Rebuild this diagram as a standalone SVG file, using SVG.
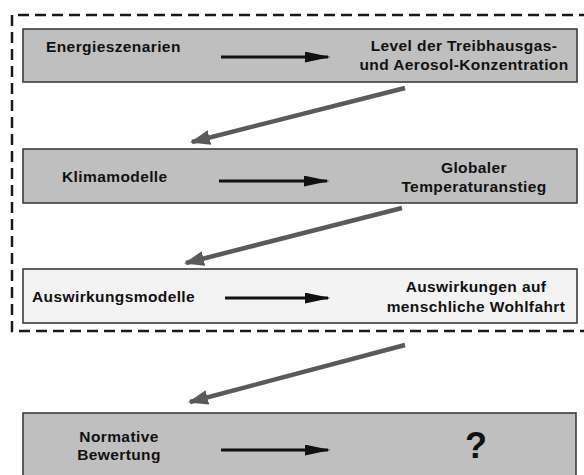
<svg xmlns="http://www.w3.org/2000/svg" width="584" height="475" viewBox="0 0 584 475">
<defs>
<style>
.box{stroke:#3c3c3c;stroke-width:1.6}
.gray{fill:#bfbfbf}
.light{fill:#f3f3f3}
.t{font-family:"Liberation Sans",Arial,sans-serif;font-weight:bold;font-size:15.5px;letter-spacing:0.4px;fill:#111}
.c{text-anchor:middle}
.h{stroke:#111;stroke-width:3;fill:none}
.d{stroke:#5a5a5a;stroke-width:4.5;fill:none}
</style>
<marker id="ah" viewBox="0 0 10 10" refX="9" refY="5" markerUnits="userSpaceOnUse" markerWidth="26" markerHeight="11" orient="auto" preserveAspectRatio="none">
<path d="M0,0 L10,5 L0,10 z" fill="#111"/>
</marker>
<marker id="dh" viewBox="0 0 10 10" refX="9" refY="5" markerUnits="userSpaceOnUse" markerWidth="20" markerHeight="15" orient="auto" preserveAspectRatio="none">
<path d="M0,0 L10,5 L0,10 z" fill="#5a5a5a"/>
</marker>
</defs>
<rect width="584" height="475" fill="#ffffff"/>
<path d="M590,15 L12,15 L12,331 L590,331" fill="none" stroke="#1a1a1a" stroke-width="2.5" stroke-dasharray="11,6"/>
<g id="n1">
<rect class="box gray" x="23" y="29" width="554" height="53"/>
<text class="t" x="46" y="52">Energieszenarien</text>
<text class="t c" x="464" y="51">Level der Treibhausgas-</text>
<text class="t c" x="464" y="70">und Aerosol-Konzentration</text>
</g>
<g id="n2">
<rect class="box gray" x="23" y="149" width="554" height="54"/>
<text class="t" x="62" y="182">Klimamodelle</text>
<text class="t c" x="474" y="173">Globaler</text>
<text class="t c" x="474" y="192">Temperaturanstieg</text>
</g>
<g id="n3">
<rect class="box light" x="23" y="269" width="554" height="54"/>
<text class="t" x="32" y="302">Auswirkungsmodelle</text>
<text class="t c" x="476" y="292">Auswirkungen auf</text>
<text class="t c" x="476" y="312">menschliche Wohlfahrt</text>
</g>
<g id="n4">
<rect class="box gray" x="23" y="413" width="553" height="70"/>
<text class="t c" x="119" y="442">Normative</text>
<text class="t c" x="119" y="460">Bewertung</text>
<text class="t c" x="476" y="458" style="font-size:36px;letter-spacing:0">?</text>
</g>
<g id="connectors">
<line class="h" x1="221" y1="57" x2="328" y2="57" marker-end="url(#ah)"/>
<line class="h" x1="219" y1="181" x2="327" y2="181" marker-end="url(#ah)"/>
<line class="h" x1="225" y1="298" x2="328" y2="298" marker-end="url(#ah)"/>
<line class="h" x1="221" y1="450" x2="328" y2="450" marker-end="url(#ah)"/>
<line class="d" x1="405" y1="88" x2="192" y2="142" marker-end="url(#dh)"/>
<line class="d" x1="402" y1="208" x2="186" y2="263" marker-end="url(#dh)"/>
<line class="d" x1="405" y1="345" x2="190" y2="402" marker-end="url(#dh)"/>
</g>
</svg>
